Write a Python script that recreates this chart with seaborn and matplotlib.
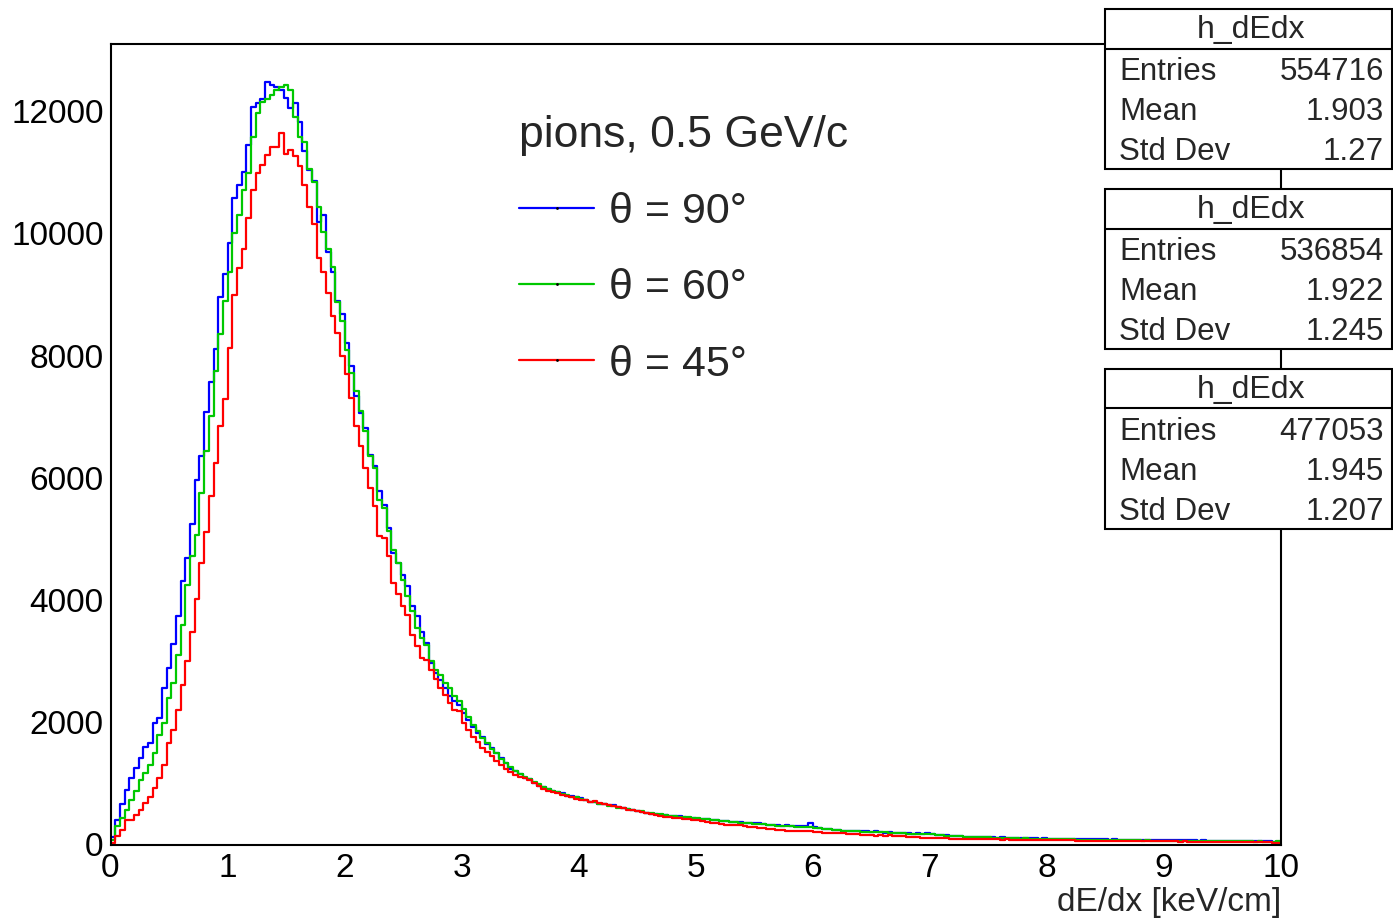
import numpy as np
import pandas as pd
import matplotlib
matplotlib.use("Agg")
import matplotlib.pyplot as plt
from matplotlib.lines import Line2D
from matplotlib.patches import Rectangle
from matplotlib.ticker import MultipleLocator
import seaborn as sns

sns.set_theme(style="white")
plt.rcParams['font.family'] = ['Liberation Sans', 'DejaVu Sans']

# ---------------- data ----------------
x_min, x_max, n_bins = 0.0, 10.0, 250

series_labels = ["θ = 90°", "θ = 60°", "θ = 45°"]
series_colors = ["#0000ff", "#00c800", "#ff0000"]
legend_title = "pions, 0.5 GeV/c"
x_label = "dE/dx [keV/cm]"

blue_counts = [
    120, 409, 670, 885, 1088, 1245, 1420, 1592, 1660, 1985, 2068, 2565, 2880, 3273, 3736, 4317, 4690, 5243, 5971, 6360, 7075, 7573, 8115, 8967, 9332,
    9839, 10575, 10793, 11011, 11447, 12063, 12129, 12199, 12483, 12428, 12401, 12347, 12220, 12047, 12128, 11815, 11350, 11040, 10865, 10194, 10295, 9690, 9360, 8900, 8680,
    8200, 7822, 7332, 7059, 6814, 6378, 6187, 5778, 5560, 5179, 4770, 4606, 4415, 4224, 3897, 3734, 3472, 3298, 2971, 2808, 2698, 2562, 2426, 2344, 2289,
    2150, 2030, 1930, 1830, 1760, 1650, 1580, 1500, 1420, 1330, 1240, 1210, 1150, 1090, 1070, 1010, 960, 935, 910, 880, 860, 840, 800, 790, 770,
    760, 720, 700, 690, 665, 660, 640, 650, 610, 590, 575, 560, 545, 530, 520, 505, 495, 490, 485, 470, 465, 460, 450, 440, 436,
    425, 415, 410, 405, 395, 385, 381, 375, 370, 365, 355, 350, 345, 344, 330, 325, 318, 311, 305, 320, 300, 305, 295, 300, 354,
    280, 265, 256, 250, 245, 235, 229, 225, 222, 218, 215, 220, 205, 218, 200, 195, 200, 191, 185, 190, 180, 175, 182, 170, 195,
    165, 155, 150, 148, 140, 142, 136, 130, 128, 125, 120, 124, 118, 115, 112, 118, 108, 110, 105, 104, 108, 100, 102, 98, 100,
    96, 98, 92, 95, 90, 88, 92, 86, 85, 88, 82, 84, 82, 80, 83, 78, 80, 76, 78, 75, 77, 74, 76, 72, 74,
    72, 70, 73, 68, 70, 66, 68, 65, 67, 63, 65, 62, 64, 60, 62, 58, 60, 56, 55, 57, 52, 54, 50, 48, 45,
]

green_counts = [
    80, 300, 436, 572, 736, 872, 1063, 1172, 1308, 1499, 1799, 1990, 2398, 2644, 3107, 3598, 4252, 4715, 5070, 5751, 6432, 7005, 7740, 8350, 8900,
    9376, 10003, 10303, 10711, 10995, 11583, 11965, 12156, 12194, 12265, 12347, 12401, 12428, 12347, 11900, 11570, 11490, 11050, 10835, 10430, 10030, 9740, 9457, 8880, 8560,
    8095, 7713, 7413, 7086, 6759, 6350, 6160, 5642, 5506, 5124, 4824, 4606, 4333, 4061, 3815, 3543, 3380, 3270, 2998, 2862, 2780, 2644, 2562, 2426, 2344,
    2210, 2090, 1950, 1850, 1745, 1665, 1565, 1495, 1405, 1335, 1265, 1195, 1155, 1105, 1065, 1015, 985, 935, 910, 875, 865, 825, 815, 780, 770,
    740, 730, 700, 695, 670, 660, 635, 630, 605, 600, 575, 570, 545, 540, 515, 512, 495, 492, 478, 473, 460, 457, 445, 442, 430,
    430, 415, 412, 398, 395, 382, 380, 370, 368, 357, 354, 344, 342, 332, 328, 320, 318, 308, 306, 296, 300, 290, 292, 282, 285,
    270, 266, 254, 250, 242, 240, 228, 228, 220, 220, 212, 212, 204, 206, 198, 198, 190, 190, 184, 184, 176, 178, 170, 172, 165,
    164, 156, 152, 144, 144, 136, 136, 128, 129, 122, 122, 116, 117, 110, 112, 106, 107, 101, 103, 97, 99, 93, 95, 90, 92,
    88, 89, 84, 86, 82, 84, 79, 81, 77, 79, 75, 77, 73, 75, 71, 73, 69, 71, 67, 69, 65, 67, 64, 65, 62,
    64, 61, 62, 59, 61, 58, 60, 57, 58, 55, 57, 54, 56, 53, 54, 51, 53, 50, 51, 48, 50, 47, 48, 46, 58,
]

red_counts = [
    22, 131, 240, 403, 403, 485, 567, 687, 785, 921, 1085, 1303, 1657, 1875, 2202, 2611, 3003, 3483, 4011, 4600, 5118, 5706, 6235, 6850, 7290,
    8130, 8994, 9441, 9747, 10259, 10711, 10984, 11120, 11284, 11409, 11420, 11638, 11305, 11360, 11270, 11110, 10785, 10439, 10158, 9600, 9375, 9027, 8645, 8375, 7990,
    7700, 7305, 6852, 6514, 6160, 5833, 5533, 5042, 5015, 4715, 4279, 4105, 3908, 3761, 3434, 3243, 3053, 3025, 2862, 2709, 2562, 2453, 2317, 2208, 2180,
    1990, 1880, 1760, 1670, 1580, 1510, 1440, 1370, 1300, 1240, 1180, 1140, 1100, 1080, 1060, 1000, 950, 900, 880, 860, 835, 815, 795, 770, 745,
    735, 720, 700, 710, 680, 660, 640, 627, 610, 590, 572, 560, 545, 530, 518, 500, 480, 463, 455, 448, 440, 436, 425, 415, 409,
    395, 380, 370, 354, 345, 335, 327, 322, 315, 311, 300, 290, 280, 272, 265, 255, 250, 245, 235, 225, 218, 222, 215, 220, 218,
    205, 198, 191, 188, 185, 182, 180, 175, 170, 164, 160, 156, 150, 147, 148, 145, 150, 147, 140, 132, 125, 120, 115, 112, 109,
    110, 108, 109, 104, 98, 95, 92, 94, 90, 91, 88, 89, 85, 82, 84, 80, 82, 78, 79, 76, 77, 74, 75, 72, 73,
    70, 72, 68, 69, 66, 67, 64, 65, 62, 63, 60, 61, 58, 59, 57, 58, 56, 57, 55, 56, 54, 55, 53, 54, 52,
    52, 50, 51, 49, 50, 48, 49, 47, 48, 46, 47, 45, 46, 44, 45, 43, 44, 42, 40, 41, 38, 36, 34, 30, 27,
]

stats_title = "h_dEdx"
stats_entries = ["554716", "536854", "477053"]
stats_means = ["1.903", "1.922", "1.945"]
stats_stds = ["1.27", "1.245", "1.207"]

y_max = 13107

for name, arr in [("blue", blue_counts), ("green", green_counts), ("red", red_counts)]:
    if len(arr) != n_bins:
        print("WARNING", name, len(arr))

# ---------------- figure ----------------
W, H = 1393, 919
fig = plt.figure(figsize=(W / 100, H / 100), dpi=100)
fig.patch.set_facecolor("white")
ax_l, ax_r, ax_t, ax_b = 110.5, 1281.0, 43.5, 844.5
ax = fig.add_axes([ax_l / W, 1 - ax_b / H, (ax_r - ax_l) / W, (ax_b - ax_t) / H])

bin_w = (x_max - x_min) / n_bins
centers = x_min + bin_w * (np.arange(n_bins) + 0.5)

for lab, col, counts in zip(series_labels, series_colors,
                            [blue_counts, green_counts, red_counts]):
    n = min(len(counts), n_bins)
    df = pd.DataFrame({"x": centers[:n], "w": np.asarray(counts[:n], dtype=float)})
    sns.histplot(data=df, x="x", weights="w",
                 bins=n_bins, binrange=(x_min, x_max), element="step",
                 fill=False, color=col, linewidth=1.6, ax=ax)

ax.set_xlim(x_min, x_max)
ax.set_ylim(0, y_max)
ax.set_ylabel("")
ax.set_xlabel(x_label, fontsize=24, loc="right", labelpad=2)

ax.xaxis.set_major_locator(MultipleLocator(1))
ax.xaxis.set_minor_locator(MultipleLocator(0.2))
ax.yaxis.set_major_locator(MultipleLocator(2000))
ax.yaxis.set_minor_locator(MultipleLocator(400))

ax.tick_params(axis="both", which="both", direction="in", colors="black",
               top=False, right=False, labelsize=24, width=1.4)
ax.tick_params(axis="y", which="major", length=25, pad=5)
ax.tick_params(axis="y", which="minor", length=12.5)
ax.tick_params(axis="x", which="major", length=16, pad=6)
ax.tick_params(axis="x", which="minor", length=8)

for sp in ax.spines.values():
    sp.set_visible(True)
    sp.set_color("black")
    sp.set_linewidth(1.5)

# legend
handles = [Line2D([], [], color=c, lw=1.6, marker='.', markersize=2,
                  markerfacecolor='black', markeredgecolor='black')
           for c in series_colors]
leg = ax.legend(handles, series_labels, title=legend_title,
                loc="upper left", bbox_to_anchor=(519 / W, 1 - 115 / H),
                bbox_transform=fig.transFigure, frameon=False,
                fontsize=31, title_fontsize=32, alignment="left",
                handlelength=1.75, handletextpad=0.35, labelspacing=0.84,
                borderpad=0, borderaxespad=0, numpoints=1)

# stats boxes
bx0, bx1 = 1105, 1392
for i in range(3):
    top = 9 + 180 * i
    bot = top + 159.5
    div = top + 39.5
    fig.add_artist(Rectangle((bx0 / W, 1 - bot / H), (bx1 - bx0) / W, (bot - top) / H,
                             transform=fig.transFigure, facecolor="white",
                             edgecolor="black", lw=1.5, zorder=5))
    fig.add_artist(Line2D([bx0 / W, bx1 / W], [1 - div / H, 1 - div / H],
                          transform=fig.transFigure, color="black", lw=1.5, zorder=6))
    fig.text(1251 / W, 1 - (top + 21) / H, stats_title, ha="center", va="center",
             fontsize=23, zorder=7)
    rows = [("Entries", stats_entries[i]), ("Mean", stats_means[i]),
            ("Std Dev", stats_stds[i])]
    for j, (k, v) in enumerate(rows):
        yc = top + 63 + 40 * j
        fig.text(1119 / W, 1 - yc / H, k, ha="left", va="center", fontsize=22.5, zorder=7)
        fig.text(1384 / W, 1 - yc / H, v, ha="right", va="center", fontsize=22.5, zorder=7)

fig.savefig("out.png", dpi=100, facecolor="white")
